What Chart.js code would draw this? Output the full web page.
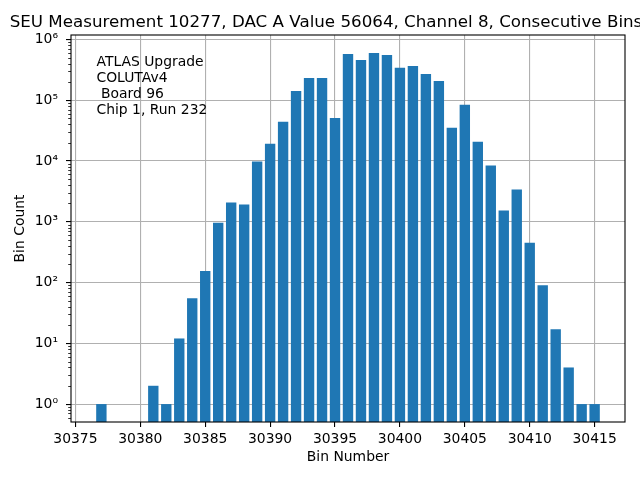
<!DOCTYPE html>
<html>
<head>
<meta charset="utf-8">
<script src="https://cdn.jsdelivr.net/npm/chart.js@4"></script>
<style>html,body{margin:0;padding:0;background:#fff}</style>
</head>
<body>
<canvas id="chart" width="640" height="480"></canvas>
<script>
// bins with zero counts (30378-30380) are left out
const binNumbers = [30377, 30381, 30382, 30383, 30384, 30385, 30386, 30387, 30388, 30389,
  30390, 30391, 30392, 30393, 30394, 30395, 30396, 30397, 30398, 30399,
  30400, 30401, 30402, 30403, 30404, 30405, 30406, 30407, 30408, 30409,
  30410, 30411, 30412, 30413, 30414, 30415];
const binCounts = [1, 2, 1, 12, 55, 155, 960, 2070, 1920, 9800,
  19200, 44000, 142000, 232000, 232000, 51000, 574000, 458000, 596000, 553000,
  340000, 365000, 270000, 207000, 35100, 83800, 20700, 8380, 1530, 3390,
  452, 90, 17, 4, 1, 1];
const xTicks = [30375, 30380, 30385, 30390, 30395, 30400, 30405, 30410, 30415];
const yDecades = [1, 10, 100, 1000, 10000, 100000, 1000000];
const yMinor = [2, 3, 4, 5, 6, 7, 8, 9];
const titleText = 'SEU Measurement 10277, DAC A Value 56064, Channel 8, Consecutive Bins';
const noteLines = ['ATLAS Upgrade', 'COLUTAv4', ' Board 96', 'Chip 1, Run 232'];

const FONT = '"DejaVu Sans", sans-serif';
const sup = {'0':'⁰','1':'¹','2':'²','3':'³','4':'⁴','5':'⁵','6':'⁶','-':'⁻'};
const isPow10 = v => Math.abs(Math.log10(v) - Math.round(Math.log10(v))) < 1e-9;

const decor = {
  id: 'decor',
  afterDraw(chart) {
    const {ctx, chartArea: a} = chart;
    const y = chart.scales.y;
    ctx.save();
    ctx.strokeStyle = '#000';
    ctx.lineWidth = 0.8;
    y.ticks.forEach(t => {
      if (isPow10(t.value)) return;
      const py = Math.round(y.getPixelForValue(t.value)) + 0.5;
      ctx.beginPath(); ctx.moveTo(a.left - 2.8, py); ctx.lineTo(a.left, py); ctx.stroke();
    });
    ctx.lineWidth = 1.1;
    ctx.strokeRect(a.left, a.top, a.right - a.left, a.bottom - a.top);
    ctx.fillStyle = '#000';
    ctx.font = '16.7px ' + FONT;
    ctx.textAlign = 'center';
    ctx.fillText(titleText, 326, 27);
    ctx.font = '13.9px ' + FONT;
    ctx.textAlign = 'left';
    noteLines.forEach((s, i) => ctx.fillText(s, a.left + 0.046 * (a.right - a.left), a.top + 31 + 16 * i));
    ctx.restore();
  }
};

new Chart(document.getElementById('chart'), {
  type: 'bar',
  data: {
    datasets: [{
      data: binNumbers.map((b, i) => ({x: b, y: binCounts[i]})),
      backgroundColor: '#1f77b4',
      borderWidth: 0,
      barPercentage: 0.8,
      categoryPercentage: 1.0
    }]
  },
  options: {
    responsive: false,
    animation: false,
    layout: {padding: {left: 0, right: 15, top: 35, bottom: 0}},
    plugins: {legend: {display: false}, tooltip: {enabled: false}},
    scales: {
      x: {
        type: 'linear',
        min: 30374.66,
        max: 30417.34,
        offset: false,
        z: 1,
        afterBuildTicks: s => { s.ticks = xTicks.map(v => ({value: v})); },
        afterFit: s => { s.height = 58; },
        border: {display: false},
        grid: {offset: false, color: '#b0b0b0', lineWidth: 1.1, tickColor: '#000', tickLength: 5},
        ticks: {color: '#000', font: {family: FONT, size: 13.9}, padding: 4, maxRotation: 0, autoSkip: false,
          callback: v => String(v)},
        title: {display: true, text: 'Bin Number', color: '#000', font: {family: FONT, size: 13.9}, padding: {top: 0, bottom: 14}}
      },
      y: {
        type: 'logarithmic',
        min: 0.507,
        max: 1.18e6,
        z: 1,
        afterBuildTicks: s => {
          const t = [];
          yDecades.forEach(d => {
            t.push({value: d});
            yMinor.forEach(m => { if (m * d < s.max) t.push({value: m * d}); });
          });
          [5, 6, 7, 8, 9].forEach(m => { if (m / 10 > s.min) t.push({value: m / 10}); });
          s.ticks = t.sort((p, q) => p.value - q.value);
        },
        afterFit: s => { s.width = 71; },
        border: {display: false},
        grid: {
          color: c => (c.tick && isPow10(c.tick.value)) ? '#b0b0b0' : 'rgba(0,0,0,0)',
          tickColor: c => (c.tick && isPow10(c.tick.value)) ? '#000' : 'rgba(0,0,0,0)',
          lineWidth: 1.1,
          tickLength: 5
        },
        ticks: {color: '#000', font: {family: FONT, size: 13.9}, padding: 8, autoSkip: false,
          callback: v => isPow10(v) ? '10' + String(Math.round(Math.log10(v))).split('').map(ch => sup[ch]).join('') : ''},
        title: {display: true, text: 'Bin Count', color: '#000', font: {family: FONT, size: 13.9}, padding: {top: 12, bottom: 0}}
      }
    }
  },
  plugins: [decor]
});
</script>
</body>
</html>
